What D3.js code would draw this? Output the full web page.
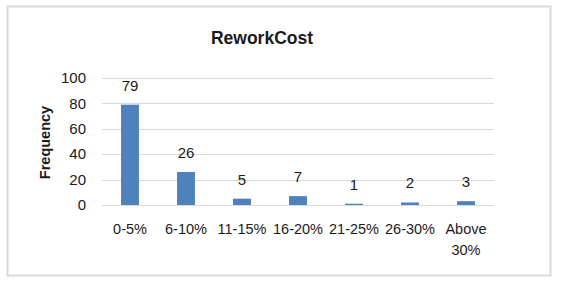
<html>
<head>
<script src="https://d3js.org/d3.v7.min.js"></script>
<style>
body { margin: 0; background: #fff; }
text { font-family: "Liberation Sans", Arial, sans-serif; fill: #1a1a1a; }
</style>
</head>
<body>
<svg id="chart" width="561" height="283"></svg>
<script>
// data
const categories = ["0-5%", "6-10%", "11-15%", "16-20%", "21-25%", "26-30%", "Above 30%"];
const frequency = [79, 26, 5, 7, 1, 2, 3];
const yTicks = [0, 20, 40, 60, 80, 100];

const svg = d3.select("#chart");

// outer frame
svg.append("rect")
    .attr("x", 7.5).attr("y", 6.5)
    .attr("width", 543).attr("height", 269)
    .attr("fill", "#fff")
    .attr("stroke", "#d9d9d9")
    .attr("stroke-width", 2);

const margin = {left: 102, right: 67, top: 78, bottom: 78};
const plotW = 561 - margin.left - margin.right;
const plotH = 283 - margin.top - margin.bottom;

const g = svg.append("g").attr("transform", "translate(" + margin.left + "," + margin.top + ")");

const x = d3.scaleBand().domain(categories).range([0, plotW]).paddingInner(0.68).paddingOuter(0.34);
const y = d3.scaleLinear().domain([0, 100]).range([plotH, 0]);

// gridlines
g.append("g")
    .selectAll("line")
    .data(yTicks)
    .join("line")
    .attr("x1", 0).attr("x2", plotW)
    .attr("y1", d => Math.round(y(d)) + 0.5)
    .attr("y2", d => Math.round(y(d)) + 0.5)
    .attr("stroke", "#d9d9d9")
    .attr("stroke-width", 1);

// y tick labels
g.append("g")
    .selectAll("text")
    .data(yTicks)
    .join("text")
    .attr("x", -16)
    .attr("y", d => y(d))
    .attr("dy", "0.35em")
    .attr("text-anchor", "end")
    .style("font-size", "15px")
    .text(d => d);

// bars
g.selectAll("rect.bar")
    .data(frequency)
    .join("rect")
    .attr("class", "bar")
    .attr("x", (d, i) => x(categories[i]))
    .attr("width", x.bandwidth())
    .attr("y", d => y(d))
    .attr("height", d => plotH - y(d))
    .attr("fill", "#4f81bd");

// value labels
g.selectAll("text.val")
    .data(frequency)
    .join("text")
    .attr("class", "val")
    .attr("x", (d, i) => x(categories[i]) + x.bandwidth() / 2)
    .attr("y", d => y(d) - 14)
    .attr("text-anchor", "middle")
    .style("font-size", "15px")
    .text(d => d);

// category labels (wrap "Above 30%")
const catLabels = g.append("g")
    .selectAll("text")
    .data(categories)
    .join("text")
    .attr("x", d => x(d) + x.bandwidth() / 2)
    .attr("y", plotH + 29)
    .attr("text-anchor", "middle")
    .style("font-size", "14.5px");

catLabels.each(function(d) {
    const words = d.indexOf("Above") === 0 ? d.split(" ") : [d];
    const t = d3.select(this);
    words.forEach((w, k) => {
        t.append("tspan")
            .attr("x", x(d) + x.bandwidth() / 2)
            .attr("dy", k === 0 ? 0 : 21)
            .text(w);
    });
});

// title
svg.append("text")
    .attr("x", 262)
    .attr("y", 44)
    .attr("text-anchor", "middle")
    .style("font-size", "17.5px")
    .style("font-weight", "bold")
    .text("ReworkCost");

// y axis title
svg.append("text")
    .attr("transform", "translate(50," + (margin.top + plotH / 2 + 1) + ") rotate(-90)")
    .attr("text-anchor", "middle")
    .style("font-size", "14.5px")
    .style("font-weight", "bold")
    .text("Frequency");
</script>
</body>
</html>
